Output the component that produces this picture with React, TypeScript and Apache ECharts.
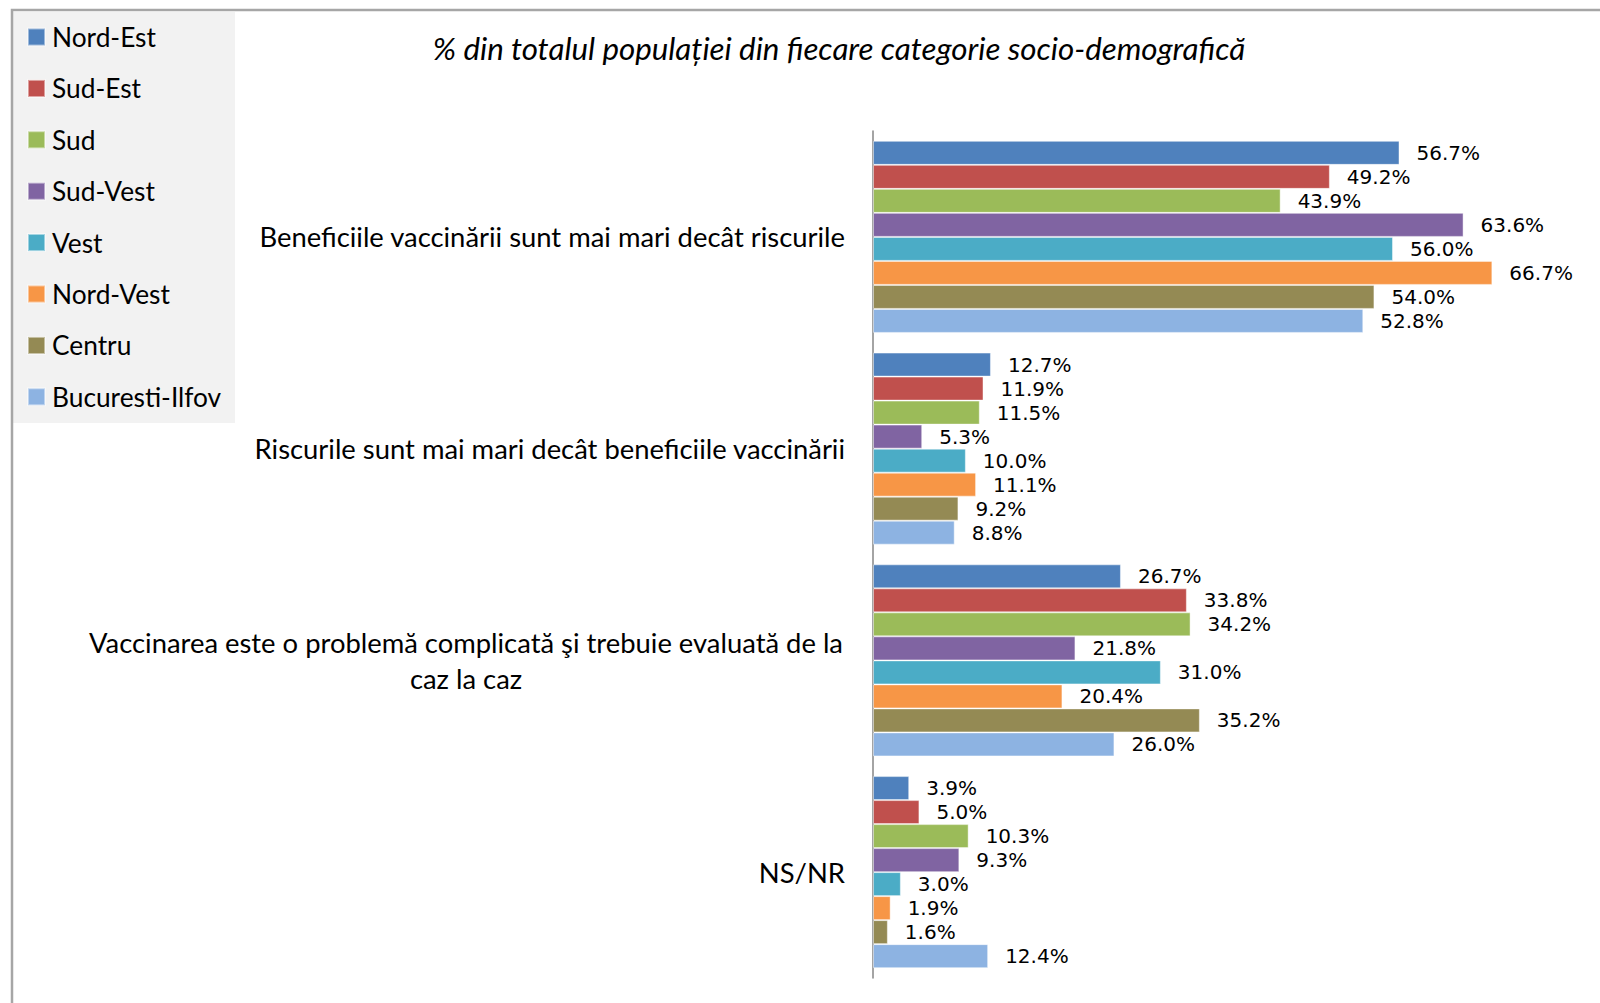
import React, { useEffect, useRef } from "react";
import * as echarts from "echarts";

const categories = [
  "Beneficiile vaccinării sunt mai mari decât riscurile",
  "Riscurile sunt mai mari decât beneficiile vaccinării",
  "Vaccinarea este o problemă complicată şi trebuie evaluată de la\ncaz la caz",
  "NS/NR",
];

const seriesNames = [
  "Nord-Est",
  "Sud-Est",
  "Sud",
  "Sud-Vest",
  "Vest",
  "Nord-Vest",
  "Centru",
  "Bucuresti-Ilfov",
];

const colors = [
  "#4F81BD",
  "#C0504D",
  "#9BBB59",
  "#8064A2",
  "#4BACC6",
  "#F79646",
  "#948A54",
  "#8DB3E2",
];

const nordEst = [56.7, 12.7, 26.7, 3.9];
const sudEst = [49.2, 11.9, 33.8, 5.0];
const sud = [43.9, 11.5, 34.2, 10.3];
const sudVest = [63.6, 5.3, 21.8, 9.3];
const vest = [56.0, 10.0, 31.0, 3.0];
const nordVest = [66.7, 11.1, 20.4, 1.9];
const centru = [54.0, 9.2, 35.2, 1.6];
const bucurestiIlfov = [52.8, 8.8, 26.0, 12.4];

const seriesValues = [nordEst, sudEst, sud, sudVest, vest, nordVest, centru, bucurestiIlfov];

const titleText = "% din totalul populației din fiecare categorie socio-demografică";

const FONT = "Lato";
const LABEL_FONT = "DejaVu Sans";

export default function App() {
  const ref = useRef<HTMLDivElement>(null);

  useEffect(() => {
    document.body.style.margin = "0";
    if (!ref.current) return;
    const chart = echarts.init(ref.current, undefined, { renderer: "svg" });

    const option: any = {
      animation: false,
      backgroundColor: "#ffffff",
      title: {
        text: titleText,
        left: 839,
        top: 32,
        textAlign: "center",
        padding: 0,
        textStyle: {
          fontFamily: FONT,
          fontStyle: "italic",
          fontWeight: "normal",
          fontSize: 31.3,
          color: "#000000",
        },
      },
      graphic: [
        {
          type: "rect",
          z: -10,
          silent: true,
          shape: { x: 13, y: 12, width: 222, height: 411 },
          style: { fill: "#f2f2f2" },
        },
        {
          type: "polyline",
          z: -5,
          silent: true,
          shape: { points: [[12, 1010], [12, 10], [1600, 10]] },
          style: { stroke: "#a6a6a6", lineWidth: 2.5, fill: "none" },
        },
      ],
      legend: {
        orient: "vertical",
        left: 27,
        top: 24,
        padding: 0,
        icon: "rect",
        itemWidth: 17,
        itemHeight: 17,
        itemGap: 25.4,
        data: seriesNames,
        textStyle: {
          fontFamily: FONT,
          fontSize: 26.3,
          lineHeight: 26,
          color: "#000000",
          padding: [0, 0, 0, 2],
        },
      },
      grid: {
        left: 873,
        top: 131,
        bottom: 25,
        right: 77,
        containLabel: false,
      },
      xAxis: {
        type: "value",
        min: 0,
        max: 70,
        show: false,
      },
      yAxis: {
        type: "category",
        inverse: true,
        data: categories,
        axisLine: { show: true, lineStyle: { color: "#868686", width: 1.5 } },
        axisTick: { show: false },
        axisLabel: {
          margin: 28,
          align: "right",
          fontFamily: FONT,
          fontSize: 27.4,
          lineHeight: 36,
          color: "#000000",
          formatter: (v: string) =>
            v.includes("\n")
              ? v
                  .split("\n")
                  .map((l) => `{c|${l}}`)
                  .join("\n")
              : v,
          rich: {
            c: {
              width: 758,
              align: "center",
              fontFamily: FONT,
              fontSize: 27.4,
              lineHeight: 36,
              color: "#000000",
            },
          },
        },
      },
      series: seriesNames.map((name, i) => ({
        name,
        type: "bar",
        data: seriesValues[i],
        barGap: "0%",
        barCategoryGap: "9.3%",
        itemStyle: {
          color: colors[i],
          borderColor: "rgba(255,255,255,0.45)",
          borderWidth: 1,
        },
        label: {
          show: true,
          position: "right",
          distance: 17,
          fontFamily: LABEL_FONT,
          fontSize: 20,
          lineHeight: 20,
          color: "#000000",
          formatter: (p: any) => Number(p.value).toFixed(1) + "%",
        },
      })),
    };

    chart.setOption(option);
    return () => chart.dispose();
  }, []);

  return <div ref={ref} style={{ width: 1600, height: 1003 }} />;
}
